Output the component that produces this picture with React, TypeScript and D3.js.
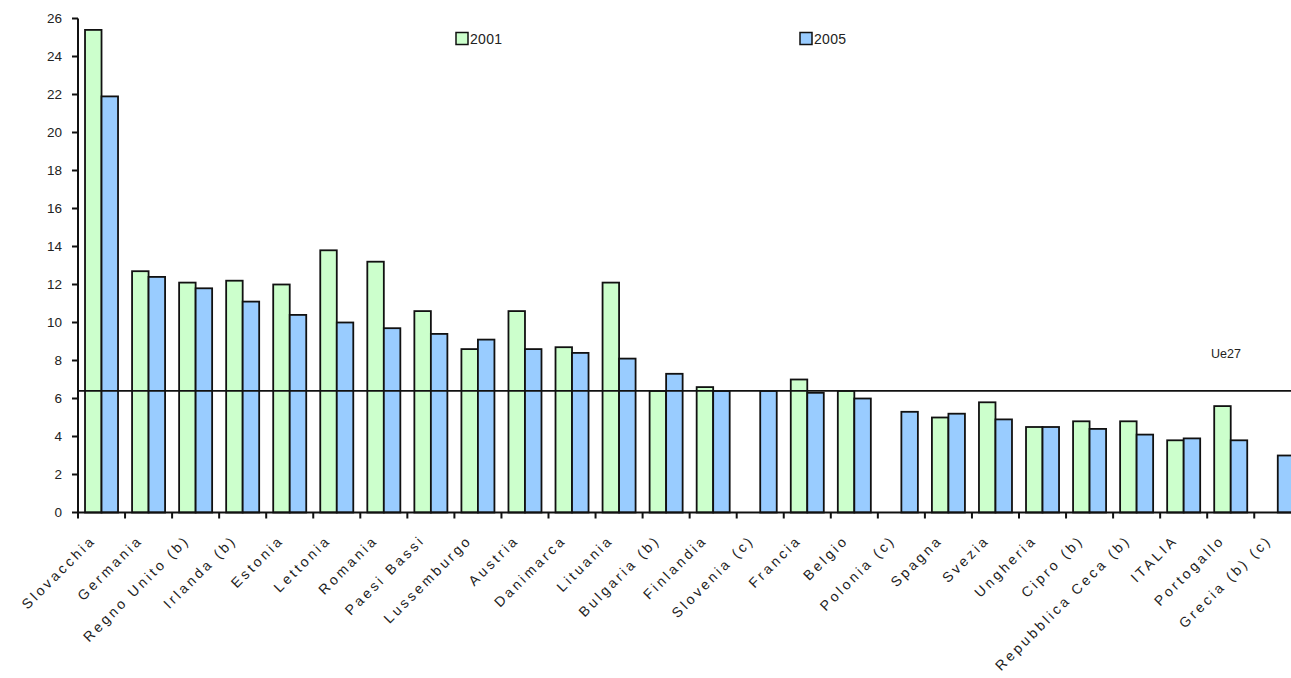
import React from 'react';
import * as d3 from 'd3';

// Countries in chart order
const categories: string[] = [
  'Slovacchia', 'Germania', 'Regno Unito (b)', 'Irlanda (b)', 'Estonia', 'Lettonia',
  'Romania', 'Paesi Bassi', 'Lussemburgo', 'Austria', 'Danimarca', 'Lituania',
  'Bulgaria (b)', 'Finlandia', 'Slovenia (c)', 'Francia', 'Belgio', 'Polonia (c)',
  'Spagna', 'Svezia', 'Ungheria', 'Cipro (b)', 'Repubblica Ceca (b)', 'ITALIA',
  'Portogallo', 'Grecia (b) (c)',
];

// Series values (null = not available)
const values2001: (number | null)[] = [
  25.4, 12.7, 12.1, 12.2, 12.0, 13.8, 13.2, 10.6, 8.6, 10.6, 8.7, 12.1,
  6.4, 6.6, null, 7.0, 6.4, null, 5.0, 5.8, 4.5, 4.8, 4.8, 3.8, 5.6, null,
];
const values2005: (number | null)[] = [
  21.9, 12.4, 11.8, 11.1, 10.4, 10.0, 9.7, 9.4, 9.1, 8.6, 8.4, 8.1,
  7.3, 6.4, 6.4, 6.3, 6.0, 5.3, 5.2, 4.9, 4.5, 4.4, 4.1, 3.9, 3.8, 3.0,
];

const seriesNames: string[] = ['2001', '2005'];
const seriesColors: string[] = ['#ccffcc', '#99ccff'];
const referenceValue = 6.4;
const referenceLabel = 'Ue27';
const yTicks: number[] = [0, 2, 4, 6, 8, 10, 12, 14, 16, 18, 20, 22, 24, 26];

const W = 1291;
const H = 678;
const FONT = '"Liberation Sans", Arial, Helvetica, sans-serif';

export default function App() {
  const left = 78;
  const step = 47.05;
  const x0 = d3
    .scaleBand<string>()
    .domain(categories)
    .range([left, left + step * categories.length])
    .paddingInner(0)
    .paddingOuter(0);
  const x1 = d3
    .scaleBand<string>()
    .domain(seriesNames)
    .range([0, x0.bandwidth()])
    .paddingInner(0)
    .paddingOuter(0.425);
  const y = d3.scaleLinear().domain([0, 26]).range([512.5, 18.5]);

  const series = [values2001, values2005];
  const boundaries = categories.map((c) => x0(c) as number).concat([left + step * categories.length]);

  return (
    <svg
      width={W}
      height={H}
      style={{ position: 'absolute', left: 0, top: 0, background: '#fff' }}
      fontFamily={FONT}
    >
      <rect x={0} y={0} width={W} height={H} fill="#fff" />

      {/* bars */}
      {categories.map((c, i) => (
        <g key={c} transform={`translate(${x0(c)},0)`}>
          {series.map((vals, s) => {
            const v = vals[i];
            if (v == null) return null;
            const bx = x1(seriesNames[s]) as number;
            return (
              <rect
                key={s}
                x={bx}
                y={y(v)}
                width={x1.bandwidth()}
                height={y(0) - y(v)}
                fill={seriesColors[s]}
                stroke="#111"
                strokeWidth={1.8}
              />
            );
          })}
        </g>
      ))}

      {/* reference line */}
      <line x1={left} x2={W} y1={y(referenceValue)} y2={y(referenceValue)} stroke="#111" strokeWidth={1.8} />
      <text x={1211} y={358} fontSize={12.5} fill="#222">{referenceLabel}</text>

      {/* y axis */}
      <line x1={left} x2={left} y1={y(26)} y2={y(0)} stroke="#111" strokeWidth={2} />
      {yTicks.map((t) => (
        <g key={t}>
          <line x1={left - 6} x2={left} y1={y(t)} y2={y(t)} stroke="#111" strokeWidth={2} />
          <text x={62} y={y(t)} dy="0.35em" textAnchor="end" fontSize={13.5} fill="#222">
            {t}
          </text>
        </g>
      ))}

      {/* x axis */}
      <line x1={left} x2={W} y1={y(0)} y2={y(0)} stroke="#111" strokeWidth={2} />
      {boundaries.map((bx, i) => (
        <line key={i} x1={bx} x2={bx} y1={y(0)} y2={y(0) + 6} stroke="#111" strokeWidth={2} />
      ))}
      {categories.map((c) => {
        const cx = (x0(c) as number) + x0.bandwidth() / 2;
        return (
          <text
            key={c}
            transform={`translate(${cx - 5},${541}) rotate(-45)`}
            textAnchor="end"
            fontSize={14}
            letterSpacing={3}
            fill="#222"
          >
            {c}
          </text>
        );
      })}

      {/* legend */}
      {seriesNames.map((name, s) => {
        const lx = s === 0 ? 456 : 800;
        return (
          <g key={name}>
            <rect x={lx} y={32.5} width={12} height={12} fill={seriesColors[s]} stroke="#111" strokeWidth={1.5} />
            <text x={lx + 14} y={44} fontSize={14} letterSpacing={0.3} fill="#222">{name}</text>
          </g>
        );
      })}
    </svg>
  );
}
